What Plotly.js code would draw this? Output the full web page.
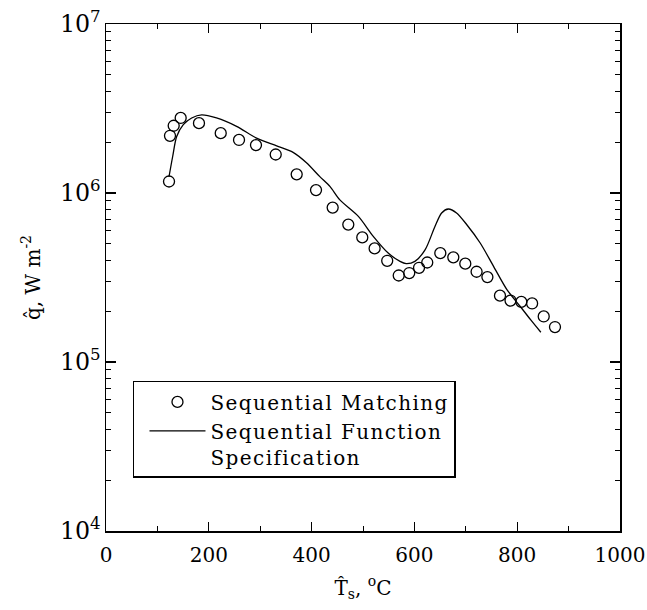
<!DOCTYPE html>
<html>
<head>
<meta charset="utf-8">
<script src="https://cdn.plot.ly/plotly-3.0.1.min.js"></script>
<style>
  html, body { margin: 0; padding: 0; background: #fff; }
  #chart { width: 647px; height: 610px; }
  .legendtext { letter-spacing: 1.4px; }
</style>
</head>
<body>
<div id="chart"></div>
<script>
// Sequential Matching (open circles)
const smTemp = [122.6, 124.5, 131.7, 145.3, 180.9, 223.2, 258.8, 291.8, 330.2, 371, 408.6,
  441, 471.4, 498.6, 522.6, 547.1, 569.5, 590, 609, 625, 650.4, 675.7, 699, 721, 742,
  766.5, 787, 808, 829, 851.6, 873.5];
const smFlux = [1.17e6, 2.18e6, 2.50e6, 2.78e6, 2.59e6, 2.26e6, 2.06e6, 1.92e6, 1.69e6, 1.29e6, 1.04e6,
  8.2e5, 6.5e5, 5.46e5, 4.70e5, 3.97e5, 3.25e5, 3.36e5, 3.61e5, 3.88e5, 4.41e5, 4.16e5, 3.82e5, 3.42e5, 3.18e5,
  2.47e5, 2.31e5, 2.27e5, 2.22e5, 1.86e5, 1.61e5];

// Sequential Function Specification (solid line)
const sfsTemp = [122.6, 129.8, 137.5, 150.4, 166.7, 186, 215, 254, 293, 332, 364, 390, 416, 436,
  455, 491, 520, 549, 572, 584, 601, 621, 640, 653, 666, 682, 702, 728, 754, 780, 806, 826, 846];
const sfsFlux = [1.25e6, 1.65e6, 2.16e6, 2.54e6, 2.78e6, 2.90e6, 2.78e6, 2.48e6, 2.11e6, 1.90e6, 1.74e6, 1.51e6, 1.25e6, 1.09e6,
  9.1e5, 7.27e5, 5.54e5, 4.41e5, 3.94e5, 3.82e5, 3.94e5, 4.62e5, 6.34e5, 7.62e5, 8.04e5, 7.62e5, 6.49e5, 5.06e5, 3.68e5, 2.68e5, 2.13e5, 1.78e5, 1.50e5];

const seriesNames = ["Sequential Matching", "Sequential Function<br>Specification"];
const xTickVals = [0, 200, 400, 600, 800, 1000];

const FONT = "DejaVu Serif, Liberation Serif, serif";

const traces = [
  {
    x: smTemp, y: smFlux, type: "scatter", mode: "markers", name: seriesNames[0],
    marker: { symbol: "circle-open", size: 11, color: "#000", line: { width: 1.3, color: "#000" } }
  },
  {
    x: sfsTemp, y: sfsFlux, type: "scatter", mode: "lines", name: seriesNames[1],
    line: { color: "#000", width: 1.3, shape: "spline", smoothing: 0.8 }
  }
];

const layout = {
  width: 647, height: 610,
  margin: { l: 106, r: 27, t: 24, b: 79, pad: 0 },
  paper_bgcolor: "#fff", plot_bgcolor: "#fff",
  font: { family: FONT, color: "#000", size: 20 },
  showlegend: true,
  legend: {
    x: 0.0525, y: 0.296, xanchor: "left", yanchor: "top",
    bordercolor: "#000", borderwidth: 1.5, bgcolor: "#fff",
    font: { family: FONT, size: 20, color: "#000" },
    valign: "top", itemwidth: 56, indentation: 10
  },
  xaxis: {
    range: [0, 1000], tickvals: xTickVals, ticktext: xTickVals.map(String),
    ticks: "inside", ticklen: 9, tickwidth: 1.2, tickcolor: "#000",
    minor: { ticks: "inside", ticklen: 5, tickwidth: 1, tickcolor: "#000", dtick: 100, showgrid: false },
    showline: true, linecolor: "#000", linewidth: 1.5, mirror: "allticks",
    showgrid: false, zeroline: false, ticklabelstandoff: 5,
    tickfont: { family: FONT, size: 20, color: "#000" },
    title: { text: "T\u0302<sub>s</sub>, <sup>o</sup>C", font: { family: FONT, size: 20, color: "#000" }, standoff: 15 }
  },
  yaxis: {
    type: "log", range: [4, 7], dtick: 1, exponentformat: "power",
    ticks: "inside", ticklen: 10, tickwidth: 1.2, tickcolor: "#000",
    minor: { ticks: "inside", ticklen: 5, tickwidth: 1, tickcolor: "#000", dtick: "D1", showgrid: false },
    showline: true, linecolor: "#000", linewidth: 1.5, mirror: "allticks",
    showgrid: false, zeroline: false,
    tickfont: { family: FONT, size: 19, color: "#000" },
    title: { text: "q\u0302, W m<sup>-2</sup>", font: { family: FONT, size: 20, color: "#000" }, standoff: 14 }
  }
};

Plotly.newPlot("chart", traces, layout, { displayModeBar: false, staticPlot: true });
</script>
</body>
</html>
